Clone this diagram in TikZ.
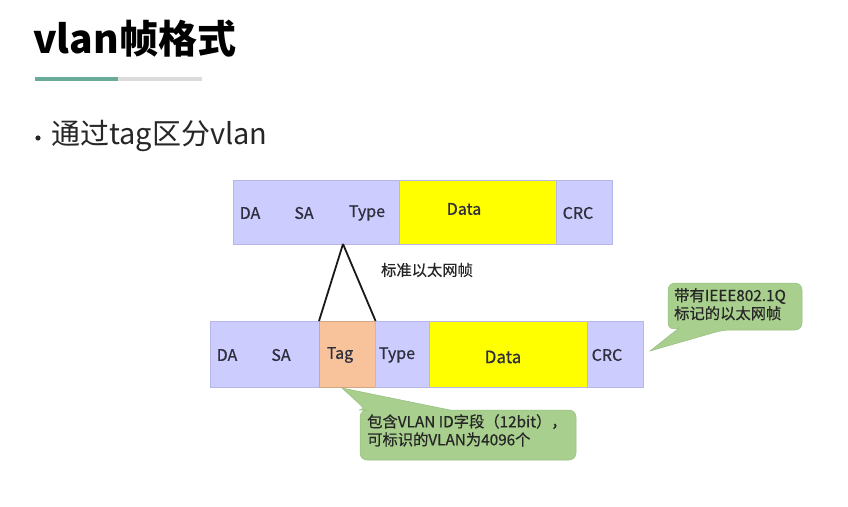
\documentclass[tikz,border=0pt]{standalone}
\usepackage{fontspec}
\setmainfont{Noto Sans CJK SC}
\newfontfamily\medfont[FakeBold=0.6]{Noto Sans CJK SC}
\definecolor{lav}{HTML}{CCCCFF}
\definecolor{lavb}{HTML}{B6B6E8}
\definecolor{ylw}{HTML}{FFFF00}
\definecolor{peach}{HTML}{F8C39B}
\definecolor{callg}{HTML}{A8CF8E}
\definecolor{callb}{HTML}{96BE7E}
\definecolor{teal}{HTML}{6AAA98}
\definecolor{lgray}{HTML}{DCDCDC}
\definecolor{txt}{HTML}{2E2E3C}
\begin{document}
\begin{tikzpicture}[x=1pt,y=-1pt,
  field/.style={draw=lavb,line width=0.6pt,inner sep=0pt,anchor=north west},
  lbl/.style={text=txt,font=\medfont\fontsize{16}{18}\selectfont,inner sep=0pt},
  lblb/.style={text=txt,font=\medfont\fontsize{17}{19}\selectfont,inner sep=0pt},
  note/.style={text=black!85,font=\medfont\fontsize{15.3}{18}\selectfont,inner sep=0pt,align=left,anchor=north west},
  callout/.style={fill=callg,draw=callb,line width=0.5pt},
  link/.style={draw=black!90,line width=1.8pt}]
\useasboundingbox (0,0) rectangle (848,506);
\fill[white] (0,0) rectangle (848,506);
% title
\node[anchor=west,inner sep=0pt,font=\fontsize{39}{44}\selectfont\bfseries] (title) at (33,39) {vlan帧格式};
\fill[teal] (35,77) rectangle (118,81);
\fill[lgray] (118,77) rectangle (202,81);
% bullet
\fill[black!85] (38,138) circle (2.6pt);
\node[anchor=west,inner sep=0pt,font=\fontsize{29}{33}\selectfont,text=black!85] (bullet) at (51,136) {通过tag区分vlan};
% top frame
\node[field,fill=lav,minimum width=166pt,minimum height=64pt] (tHdr) at (233,180) {};
\node[field,fill=ylw,minimum width=157pt,minimum height=64pt] (tData) at (399,180) {};
\node[field,fill=lav,minimum width=56pt,minimum height=64pt] (tCRC) at (556,180) {};
\node[lbl] (tDA) at (250,213) {DA};
\node[lbl] (tSA) at (304,213) {SA};
\node[lbl] (tType) at (367,213) {Type};
\node[lbl] (tDataL) at (464,209) {Data};
\node[lbl] (tCRCL) at (578,213) {CRC};
\node[note,anchor=center] (std) at (427,270) {标准以太网帧};
% bottom frame
\node[field,fill=lav,minimum width=109pt,minimum height=66pt] (bHdr) at (210,321) {};
\node[field,fill=peach,draw=peach!85!black,minimum width=56pt,minimum height=66pt] (bTag) at (319,321) {};
\node[field,fill=lav,minimum width=54pt,minimum height=66pt] (bType) at (375,321) {};
\node[field,fill=ylw,minimum width=158pt,minimum height=66pt] (bData) at (429,321) {};
\node[field,fill=lav,minimum width=56pt,minimum height=66pt] (bCRC) at (587,321) {};
\node[lbl] (bDA) at (227,355) {DA};
\node[lbl] (bSA) at (281,355) {SA};
\node[lbl] (bTagL) at (340,355) {Tag};
\node[lbl] (bTypeL) at (397,355) {Type};
\node[lblb] (bDataL) at (503,357) {Data};
\node[lbl] (bCRCL) at (607,355) {CRC};
% expansion lines
\coordinate (apex) at (343,244);
\draw[link] (apex) -- (bTag.north west);
\draw[link] (apex) -- (bTag.north east);
% callout 1
\coordinate (tip1) at (650,351);
\path[callout] (735,283) [rounded corners=7pt] -- (802,283) -- (802,330) -- (723,330) [sharp corners] -- (tip1) -- (679,328) [rounded corners=7pt] -- (668,330) -- (668,283) -- cycle;
\node[note] (n1) at (674,288) {带有IEEE802.1Q\\标记的以太网帧};
% callout 2
\coordinate (tip2) at (342,388);
\path[callout] (360,440) [rounded corners=7pt] -- (360,410) -- (366,410) [sharp corners] -- (tip2) -- (450,410) [rounded corners=7pt] -- (576,410) -- (576,460) -- (360,460) -- cycle;
\node[note] (n2) at (367,414) {包含VLAN ID字段（12bit），\\可标识的VLAN为4096个};
\end{tikzpicture}
\end{document}
